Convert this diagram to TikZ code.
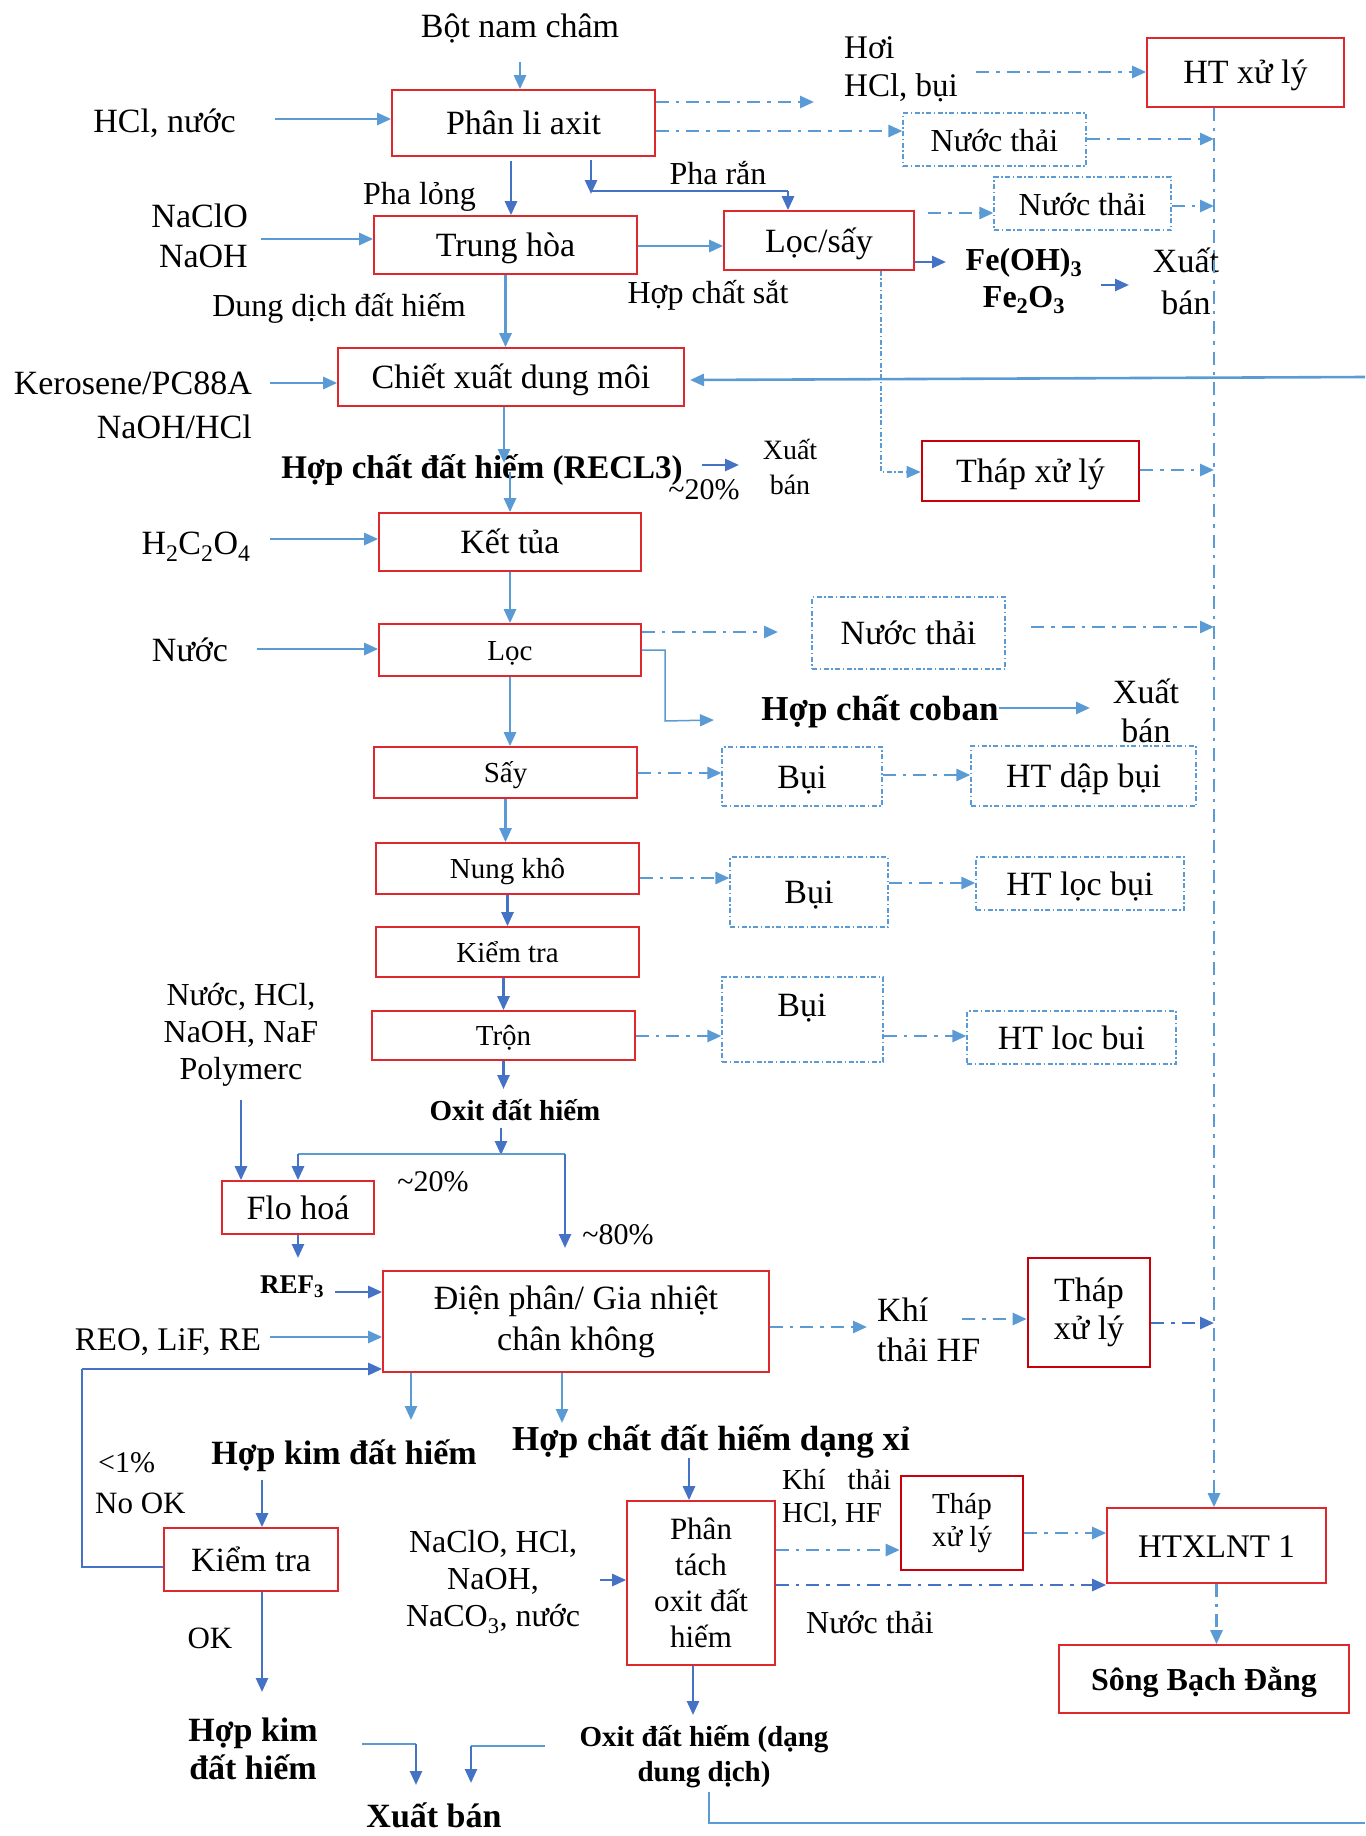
\documentclass[tikz,border=0pt]{standalone}
\usepackage{fontspec}
\setmainfont{Liberation Serif}
\usetikzlibrary{arrows.meta}
\definecolor{boxred}{RGB}{222,40,45}
\definecolor{thapred}{RGB}{200,0,10}
\definecolor{lblue}{RGB}{91,155,213}
\definecolor{dblue}{RGB}{68,114,196}
\newcommand\szM{\fontsize{34}{40}\selectfont}
\newcommand\szL{\fontsize{32}{38}\selectfont}
\newcommand\szS{\fontsize{29}{34}\selectfont}
\begin{document}
\begin{tikzpicture}[x=1pt,y=-1pt,
  tip/.style={-{Triangle[length=14pt,width=12pt]}},
  rbox/.style={draw=boxred, line width=1.6pt, inner sep=0pt, align=center, font=\szM},
  tbox/.style={draw=thapred, line width=2.6pt, inner sep=0pt, align=center, font=\szM},
  dbox/.style={draw=lblue, line width=1.2pt, dash pattern=on 5pt off 2.5pt on 1.5pt off 2.5pt, inner sep=0pt, align=center, font=\szM},
  one/.style={text height=30pt, text depth=7pt},
  oneS/.style={text height=26pt, text depth=6pt},
  txt/.style={inner sep=0pt, align=center, font=\szM},
  arrL/.style={draw=lblue, line width=2.6pt, tip},
  arrD/.style={draw=dblue, line width=2.6pt, tip},
  thinL/.style={draw=lblue, line width=1.5pt},
  thinD/.style={draw=dblue, line width=1.5pt},
  ddash/.style={draw=lblue, line width=2.6pt, dash pattern=on 13pt off 7pt on 3.5pt off 7pt, tip},
  ddashD/.style={draw=dblue, line width=2.6pt, dash pattern=on 13pt off 7pt on 3.5pt off 7pt, tip},
  dotarr/.style={draw=lblue, line width=1.3pt, dash pattern=on 5pt off 2.5pt on 1.5pt off 2.5pt, tip},
]
\useasboundingbox (0,0) rectangle (1365,1836);

% ---------- process boxes ----------
\node[rbox, one, minimum width=263pt, minimum height=66pt] (phan) at (523.5,123) {Phân li axit};
\node[rbox, one, minimum width=263pt, minimum height=58pt] (trung) at (505.5,245) {Trung hòa};
\node[rbox, one, minimum width=190pt, minimum height=59pt] (loc1) at (819,240.5) {Lọc/sấy};
\node[rbox, one, minimum width=197pt, minimum height=69pt] (htxl) at (1245.5,72.5) {HT xử lý};
\node[rbox, one, minimum width=346pt, minimum height=58pt] (chiet) at (511,377) {Chiết xuất dung môi};
\node[tbox, one, minimum width=217pt, minimum height=60pt] (thap1) at (1030.5,471) {Tháp xử lý};
\node[rbox, one, minimum width=262pt, minimum height=58pt] (kettua) at (510,542) {Kết tủa};
\node[rbox, oneS, minimum width=262pt, minimum height=52pt, font=\szS] (loc) at (510,650) {Lọc};
\node[rbox, oneS, minimum width=263pt, minimum height=51pt, font=\szS] (say) at (505.5,772.5) {Sấy};
\node[rbox, oneS, minimum width=263pt, minimum height=51pt, font=\szS] (nung) at (507.5,868.5) {Nung khô};
\node[rbox, oneS, minimum width=263pt, minimum height=50pt, font=\szS] (kiemtra1) at (507.5,952) {Kiểm tra};
\node[rbox, oneS, minimum width=263pt, minimum height=49pt, font=\szS] (tron) at (503.5,1035.5) {Trộn};
\node[rbox, one, minimum width=152pt, minimum height=53pt] (flo) at (298,1207.5) {Flo hoá};
\node[rbox, minimum width=386pt, minimum height=101pt, font=\fontsize{34}{41}\selectfont] (dien) at (576,1321.5) {Điện phân/ Gia nhiệt\\chân không};
\node[tbox, minimum width=122pt, minimum height=109pt, font=\fontsize{34}{38}\selectfont] (thap2) at (1089,1312.5) {Tháp\\xử lý};
\node[rbox, one, minimum width=174pt, minimum height=63pt] (kiemtra2) at (251,1559.5) {Kiểm tra};
\node[rbox, minimum width=148pt, minimum height=164pt, font=\fontsize{31}{36}\selectfont] (phantach) at (701,1583) {Phân\\tách\\oxit đất\\hiếm};
\node[tbox, minimum width=122pt, minimum height=94pt, font=\fontsize{29}{33}\selectfont] (thap3) at (962,1523) {Tháp\\xử lý};
\node[rbox, one, minimum width=219pt, minimum height=75pt, font=\fontsize{33}{38}\selectfont] (htxlnt) at (1216.5,1545.5) {HTXLNT 1};
\node[rbox, one, minimum width=290pt, minimum height=68pt, font=\fontsize{32}{38}\selectfont\bfseries] (song) at (1204,1679) {Sông Bạch Đằng};

% ---------- waste / dust boxes ----------
\node[dbox, one, minimum width=183pt, minimum height=53pt, font=\szL] (nt1) at (994.5,139.5) {Nước thải};
\node[dbox, one, minimum width=177pt, minimum height=53pt, font=\szL] (nt2) at (1082.5,203.5) {Nước thải};
\node[dbox, one, minimum width=193pt, minimum height=72pt] (nt3) at (908.5,633) {Nước thải};
\node[dbox, one, minimum width=160pt, minimum height=59pt] (bui1) at (802,776.5) {Bụi};
\node[dbox, one, minimum width=225pt, minimum height=60pt] (htdap) at (1083.5,776) {HT dập bụi};
\node[dbox, one, minimum width=158pt, minimum height=70pt] (bui2) at (809,892) {Bụi};
\node[dbox, one, minimum width=208pt, minimum height=53pt] (htloc1) at (1080,883.5) {HT lọc bụi};
\node[dbox, minimum width=161pt, minimum height=85pt] (bui3) at (802.5,1019.5) {};
\node[txt] (bui3t) at (802,1008) {Bụi};
\node[dbox, one, minimum width=209pt, minimum height=53pt] (htloc2) at (1071.5,1037.5) {HT loc bui};

% ---------- labels ----------
\node[txt] (bot) at (520,28) {Bột nam châm};
\node[txt] (hcl) at (164.5,123) {HCl, nước};
\node[txt, align=left, anchor=west, font=\fontsize{33}{38}\selectfont] (hoi) at (844,69) {Hơi\\HCl, bụi};
\node[txt, font=\szL] (plong) at (419.5,197) {Pha lỏng};
\node[txt, font=\szL] (pran) at (718,173) {Pha rắn};
\node[txt, align=right, anchor=east] (naclo) at (248,236) {NaClO\\NaOH};
\node[txt, font=\szL] (dd) at (339,308) {Dung dịch đất hiếm};
\node[txt, font=\szL] (hcs) at (708,295) {Hợp chất sắt};
\node[txt, font=\fontsize{32}{37}\selectfont\bfseries] (fe) at (1024,281) {Fe(OH)\textsubscript{3}\\Fe\textsubscript{2}O\textsubscript{3}};
\node[txt, font=\fontsize{34}{42}\selectfont] (xb1) at (1186,281) {Xuất\\bán};
\node[txt, align=right, anchor=east, font=\fontsize{34}{44}\selectfont] (kero) at (252,405) {Kerosene/PC88A\\NaOH/HCl};
\node[txt, font=\fontsize{33}{38}\selectfont\bfseries] (recl) at (482,470) {Hợp chất đất hiếm (RECL3)};
\node[txt, font=\fontsize{30}{34}\selectfont] (p20a) at (704,490) {\textasciitilde 20\%};
\node[txt, font=\fontsize{28}{35}\selectfont] (xb2) at (790,467) {Xuất\\bán};
\node[txt] (h2c) at (196,547) {H\textsubscript{2}C\textsubscript{2}O\textsubscript{4}};
\node[txt] (nuoc) at (190,650) {Nước};
\node[txt, font=\fontsize{35}{40}\selectfont\bfseries] (coban) at (880,711) {Hợp chất coban};
\node[txt, font=\fontsize{34}{39}\selectfont] (xb3) at (1146,711) {Xuất\\bán};
\node[txt, font=\fontsize{32}{37}\selectfont] (nhcl) at (241,1035) {Nước, HCl,\\NaOH, NaF\\Polymerc};
\node[txt, font=\fontsize{29}{34}\selectfont\bfseries] (oxit) at (515,1110) {Oxit đất hiếm};
\node[txt, font=\fontsize{30}{34}\selectfont] (p20b) at (433,1182) {\textasciitilde 20\%};
\node[txt, font=\fontsize{30}{34}\selectfont] (p80) at (618,1235) {\textasciitilde 80\%};
\node[txt, font=\fontsize{27}{32}\selectfont\bfseries] (ref) at (292,1287) {REF\textsubscript{3}};
\node[txt, font=\fontsize{33}{38}\selectfont] (reo) at (168,1342) {REO, LiF, RE};
\node[txt, align=left, anchor=west] (khi) at (877,1330) {Khí\\thải HF};
\node[txt, font=\fontsize{30}{34}\selectfont, anchor=west] (lt1) at (98,1463) {<1\%};
\node[txt, font=\fontsize{31}{36}\selectfont, anchor=west] (nook) at (95,1503) {No OK};
\node[txt, font=\fontsize{34}{40}\selectfont\bfseries] (hk) at (344,1456) {Hợp kim đất hiếm};
\node[txt, font=\fontsize{35}{40}\selectfont\bfseries] (xi) at (711,1442) {Hợp chất đất hiếm dạng xỉ};
\node[txt, align=left, anchor=west, font=\fontsize{29}{33}\selectfont] (khi2) at (782,1498) {Khí\hspace{22pt}thải\\HCl, HF};
\node[txt, font=\fontsize{32}{37}\selectfont] (naclo2) at (493,1582) {NaClO, HCl,\\NaOH,\\NaCO\textsubscript{3}, nước};
\node[txt, font=\szL] (ntb) at (870,1623) {Nước thải};
\node[txt, font=\fontsize{31}{36}\selectfont] (ok) at (210,1638) {OK};
\node[txt, font=\fontsize{34}{38}\selectfont\bfseries] (hk2) at (253,1749) {Hợp kim\\đất hiếm};
\node[txt, font=\fontsize{29}{35}\selectfont\bfseries] (oxdd) at (704,1757) {Oxit đất hiếm (dạng\\dung dịch)};
\node[txt, font=\fontsize{34}{40}\selectfont\bfseries] (xb4) at (434,1815) {Xuất bán};

% ---------- helper coordinates ----------
\coordinate (vl) at (1214,0);          % collecting line to the treatment plant
\coordinate (botS) at (520,62);
\coordinate (hclE) at (275,119);
\coordinate (plS) at (511,161);
\coordinate (prS) at (591,160);
\coordinate (prT) at (591,194);
\coordinate (prM) at (591,191);
\coordinate (prR) at (788,191);
\coordinate (hoiW) at (814,102);
\coordinate (hoiE) at (976,72);
\coordinate (nacloE) at (261,239);
\coordinate (l1e) at (928,213);
\coordinate (feA) at (919,262);
\coordinate (feB) at (946,262);
\coordinate (xbA) at (1101,285);
\coordinate (xbB) at (1129,285);
\coordinate (dk) at (881,472);
\coordinate (keroE) at (270,383);
\coordinate (rtop) at (1365,377);
\coordinate (rtopE) at (690,380);
\coordinate (reclT) at (504,463);
\coordinate (reclB) at (510,472);
\coordinate (r20A) at (702,465);
\coordinate (r20B) at (739,465);
\coordinate (h2cE) at (270,539);
\coordinate (nuocE) at (257,649);
\coordinate (locD) at (778,632);
\coordinate (nt3E) at (1031,627);
\coordinate (cb1) at (665,650);
\coordinate (cb2) at (665,721);
\coordinate (cb3) at (714,720);
\coordinate (cbA) at (999,708);
\coordinate (cbB) at (1090,708);
\coordinate (oxT) at (503.5,1089);
\coordinate (oxS) at (501,1128);
\coordinate (sp) at (501,1155);
\coordinate (spL) at (298,1154);
\coordinate (spR) at (565,1154);
\coordinate (spRB) at (565,1248);
\coordinate (nhS) at (241,1100);
\coordinate (refT) at (298,1258);
\coordinate (refE) at (335,1292);
\coordinate (reoE) at (270,1337);
\coordinate (fb1) at (82,1567);
\coordinate (fb2) at (82,1369);
\coordinate (dA) at (411,1420);
\coordinate (dB) at (562,1423);
\coordinate (khiW) at (867,1327);
\coordinate (khiE) at (962,1319);
\coordinate (hkS) at (262,1480);
\coordinate (okB) at (262,1692);
\coordinate (xiS) at (689,1458);
\coordinate (naE) at (600,1580);
\coordinate (ptB) at (693,1715);
\coordinate (od1) at (709,1792);
\coordinate (od2) at (709,1823);
\coordinate (od3) at (1365,1823);
\coordinate (hkL1) at (362,1744);
\coordinate (hkL2) at (416,1744);
\coordinate (hkB) at (416,1785);
\coordinate (odL1) at (545,1746);
\coordinate (odL2) at (471,1746);
\coordinate (odB) at (471,1783);

% ---------- main line ----------
\draw[arrL] (botS) -- (botS |- phan.north);
\draw[arrL] (hclE) -- (hclE -| phan.west);
\draw[arrD] (plS) -- (plS |- trung.north);
\draw[arrD] (prS) -- (prT);
\draw[thinD] (prM) -- (prR);
\draw[arrD] (prR) -- (prR |- loc1.north);
\draw[arrL] (nacloE) -- (nacloE -| trung.west);
\draw[arrL] (trung.east |- 0,246) -- (loc1.west |- 0,246);
\draw[arrD] (feA -| loc1.east) -- (feB);
\draw[arrD] (xbA) -- (xbB);
\draw[arrL] (trung.south) -- (trung.south |- chiet.north);
\draw[arrL] (keroE) -- (keroE -| chiet.west);
\draw[arrL] (rtop) -- (rtopE);
\draw[arrL] (reclT |- chiet.south) -- (reclT);
\draw[arrL] (reclB) -- (reclB |- kettua.north);
\draw[arrD] (r20A) -- (r20B);
\draw[arrL] (h2cE) -- (h2cE -| kettua.west);
\draw[arrL] (kettua.south) -- (loc.north);
\draw[arrL] (nuocE) -- (nuocE -| loc.west);
\draw[thinL, tip] (cb1 -| loc.east) -- (cb1) -- (cb2) -- (cb3);
\draw[arrL] (cbA) -- (cbB);
\draw[arrL] (loc.south) -- (loc.south |- say.north);
\draw[arrL] (say.south) -- (say.south |- nung.north);
\draw[arrD] (kiemtra1.north |- nung.south) -- (kiemtra1.north);
\draw[arrD] (tron.north |- kiemtra1.south) -- (tron.north);
\draw[arrD] (tron.south) -- (oxT);

% split after the oxide
\draw[arrD] (oxS) -- (sp);
\draw[thinL] (spL) -- (spR);
\draw[arrD] (spL) -- (flo.north);
\draw[arrD] (spR) -- (spRB);
\draw[arrD] (nhS) -- (nhS |- flo.north);
\draw[arrD] (flo.south) -- (refT);
\draw[arrD] (refE) -- (refE -| dien.west);
\draw[arrL] (reoE) -- (reoE -| dien.west);
\draw[thinD] (kiemtra2.west |- fb1) -- (fb1) -- (fb2);
\draw[arrD] (fb2) -- (fb2 -| dien.west);
\draw[arrL] (dA |- dien.south) -- (dA);
\draw[arrL] (dB |- dien.south) -- (dB);
\draw[arrD] (hkS) -- (hkS |- kiemtra2.north);
\draw[arrD] (okB |- kiemtra2.south) -- (okB);
\draw[arrD] (xiS) -- (xiS |- phantach.north);
\draw[arrD] (naE) -- (naE -| phantach.west);
\draw[arrD] (ptB |- phantach.south) -- (ptB);
\draw[thinL] (od1) -- (od2) -- (od3);
\draw[thinL] (hkL1) -- (hkL2);
\draw[arrD] (hkL2) -- (hkB);
\draw[thinL] (odL1) -- (odL2);
\draw[arrD] (odL2) -- (odB);

% ---------- waste streams ----------
\draw[ddash] (hoiW -| phan.east) -- (hoiW);
\draw[ddash] (hoiE) -- (hoiE -| htxl.west);
\draw[ddash] (phan.east |- 0,131) -- (nt1.west |- 0,131);
\draw[ddash] (nt1.east |- 0,139) -- (vl |- 0,139);
\draw[ddash] (l1e) -- (l1e -| nt2.west);
\draw[ddash] (nt2.east |- 0,206) -- (vl |- 0,206);
\draw[ddash] (htxl.south -| vl) -- (htxlnt.north -| vl);
\draw[dotarr] (dk |- loc1.south) -- (dk) -- (dk -| thap1.west);
\draw[ddash] (thap1.east |- 0,470) -- (vl |- 0,470);
\draw[ddash] (loc.east |- locD) -- (locD);
\draw[ddash] (nt3E) -- (vl |- nt3E);
\draw[ddash] (say.east |- 0,773) -- (bui1.west |- 0,773);
\draw[ddash] (bui1.east |- 0,775) -- (htdap.west |- 0,775);
\draw[ddash] (nung.east |- 0,878) -- (bui2.west |- 0,878);
\draw[ddash] (bui2.east |- 0,883) -- (htloc1.west |- 0,883);
\draw[ddash] (tron.east |- 0,1036) -- (bui3.west |- 0,1036);
\draw[ddash] (bui3.east |- 0,1036) -- (htloc2.west |- 0,1036);
\draw[ddash] (dien.east |- khiW) -- (khiW);
\draw[ddash] (khiE) -- (khiE -| thap2.west);
\draw[ddashD] (thap2.east |- 0,1323) -- (vl |- 0,1323);
\draw[ddash] (phantach.east |- 0,1550) -- (thap3.west |- 0,1550);
\draw[ddash] (thap3.east |- 0,1533) -- (htxlnt.west |- 0,1533);
\draw[ddashD] (phantach.east |- 0,1585) -- (htxlnt.west |- 0,1585);
\draw[ddash] (htxlnt.south) -- (htxlnt.south |- song.north);
\end{tikzpicture}
\end{document}
